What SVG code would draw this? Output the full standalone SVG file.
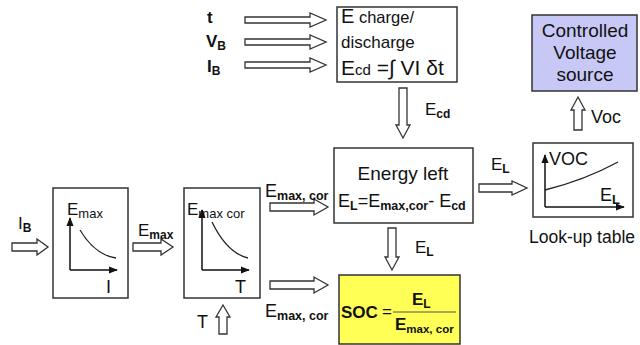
<svg xmlns="http://www.w3.org/2000/svg" width="640" height="345" viewBox="0 0 640 345">
<style>
text{font-family:"Liberation Sans",Arial,sans-serif;fill:#111}
.box{fill:#fff;stroke:#333;stroke-width:1.5}
.ha{fill:#fff;stroke:#333;stroke-width:1.3;stroke-linejoin:miter}
.ax{fill:none;stroke:#111;stroke-width:1.5}
.cv{fill:none;stroke:#222;stroke-width:1.3}
.b{font-weight:bold}
</style>
<defs>
<marker id="ah" viewBox="0 0 10 10" refX="9" refY="5" markerWidth="6" markerHeight="6" orient="auto"><path d="M0,1 L10,5 L0,9 Z" fill="#111"/></marker>
</defs>
<rect width="640" height="345" fill="#fff"/>

<g id="connectors">
<path class="ha" d="M245,17 H310 V13 L326,20 L310,27 V23 H245 Z"/>
<path class="ha" d="M245,39 H310 V35 L326,42 L310,49 V45 H245 Z"/>
<path class="ha" d="M245,62 H310 V58 L326,65 L310,72 V68 H245 Z"/>
<path class="ha" d="M399,88 V125 H396 L403,138 L410,125 H407 V88 Z"/>
<path class="ha" d="M388,228 V257 H385 L392,270 L399,257 H396 V228 Z"/>
<path class="ha" d="M479,184 H512 V181 L527,188 L512,195 V192 H479 Z"/>
<path class="ha" d="M574,130 V110 H571 L578,97 L585,110 H582 V130 Z"/>
<path class="ha" d="M12,243 H37 V239 L48,247 L37,255 V251 H12 Z"/>
<path class="ha" d="M133,243 H161 V239 L173,247 L161,255 V251 H133 Z"/>
<path class="ha" d="M270,203 H314 V199 L328,207 L314,215 V211 H270 Z"/>
<path class="ha" d="M270,281 H314 V277 L328,285 L314,293 V289 H270 Z"/>
<path class="ha" d="M219,334 V317 H216 L223,305 L230,317 H227 V334 Z"/>
</g>

<g id="labels">
<text x="207" y="23" font-size="17" class="b">t</text>
<text x="206" y="47" font-size="17" class="b">V<tspan font-size="12" dy="3">B</tspan></text>
<text x="207" y="72" font-size="17" class="b">I<tspan font-size="12" dy="3">B</tspan></text>
<text x="425" y="115" font-size="17">E<tspan font-size="12" class="b" dy="3">cd</tspan></text>
<text x="415" y="253" font-size="17">E<tspan font-size="12" class="b" dy="3">L</tspan></text>
<text x="491" y="170" font-size="17">E<tspan font-size="12" class="b" dy="3">L</tspan></text>
<text x="591" y="123" font-size="18">Voc</text>
<text x="18" y="229" font-size="17">I<tspan font-size="12" class="b" dy="3">B</tspan></text>
<text x="138" y="236" font-size="17">E<tspan font-size="12" class="b" dy="3">max</tspan></text>
<text x="265" y="197" font-size="18">E<tspan font-size="12.5" class="b" dy="3">max, cor</tspan></text>
<text x="265" y="317" font-size="18">E<tspan font-size="12.5" class="b" dy="3">max, cor</tspan></text>
<text x="197" y="328" font-size="18">T</text>
</g>

<g id="echarge">
<rect class="box" x="337" y="7" width="120" height="75"/>
<text x="341" y="23" font-size="20">E<tspan font-size="16.5"> charge/</tspan></text>
<text x="341" y="48" font-size="17">discharge</text>
<text x="341" y="75" font-size="21">E<tspan font-size="15">cd</tspan> =∫ VI δt</text>
</g>

<g id="cvs">
<rect x="532" y="15" width="105" height="76" fill="#c8c8f7" stroke="#333" stroke-width="1.5"/>
<text x="585" y="37" font-size="19" text-anchor="middle">Controlled</text>
<text x="585" y="59" font-size="19" text-anchor="middle">Voltage</text>
<text x="585" y="81" font-size="19" text-anchor="middle">source</text>
</g>

<g id="energyleft">
<rect class="box" x="334" y="148" width="139" height="75"/>
<text x="403" y="180" font-size="19" text-anchor="middle">Energy left</text>
<text x="338" y="207" font-size="18">E<tspan font-size="12.5" class="b" dy="3">L</tspan><tspan dy="-3">=E</tspan><tspan font-size="12.5" class="b" dy="3">max,cor</tspan><tspan dy="-3">- E</tspan><tspan font-size="12.5" class="b" dy="3">cd</tspan></text>
</g>

<g id="lookup">
<rect class="box" x="533" y="143" width="100" height="74"/>
<line class="ax" x1="545" y1="207" x2="545" y2="155" marker-end="url(#ah)"/>
<line class="ax" x1="545" y1="207" x2="624" y2="207" marker-end="url(#ah)"/>
<path class="cv" d="M545,190 Q585,180 618,162"/>
<text x="549" y="165" font-size="18">VOC</text>
<text x="600" y="201" font-size="18">E<tspan font-size="13" class="b" dy="3">L</tspan></text>
<text x="582" y="243" font-size="17.5" text-anchor="middle">Look-up table</text>
</g>

<g id="emax">
<rect class="box" x="53" y="188" width="75" height="110"/>
<text x="67" y="215" font-size="17">E<tspan font-size="13" dy="3">max</tspan></text>
<line class="ax" x1="70" y1="270" x2="70" y2="218" marker-end="url(#ah)"/>
<line class="ax" x1="70" y1="270" x2="117" y2="270" marker-end="url(#ah)"/>
<path class="cv" d="M80,230 Q95,255 116,258"/>
<text x="106" y="293" font-size="18">I</text>
</g>

<g id="emaxcor">
<rect class="box" x="184" y="188" width="76" height="110"/>
<text x="187" y="215" font-size="17">E<tspan font-size="13" dy="3">max cor</tspan></text>
<line class="ax" x1="202" y1="270" x2="202" y2="210" marker-end="url(#ah)"/>
<line class="ax" x1="202" y1="270" x2="249" y2="270" marker-end="url(#ah)"/>
<path class="cv" d="M212,222 Q227,253 248,258"/>
<text x="235" y="293" font-size="18">T</text>
</g>

<g id="soc">
<rect x="339" y="275" width="121" height="69" fill="#ffff55" stroke="#333" stroke-width="1.5"/>
<text x="341" y="318" font-size="17" class="b">SOC</text>
<text x="382" y="317" font-size="17">=</text>
<line x1="393" y1="312" x2="456" y2="312" stroke="#555" stroke-width="1.2"/>
<text x="412" y="305" font-size="17" class="b">E<tspan font-size="12" dy="3">L</tspan></text>
<text x="395" y="330" font-size="17" class="b">E<tspan font-size="11.5" dy="3">max, cor</tspan></text>
</g>
</svg>
